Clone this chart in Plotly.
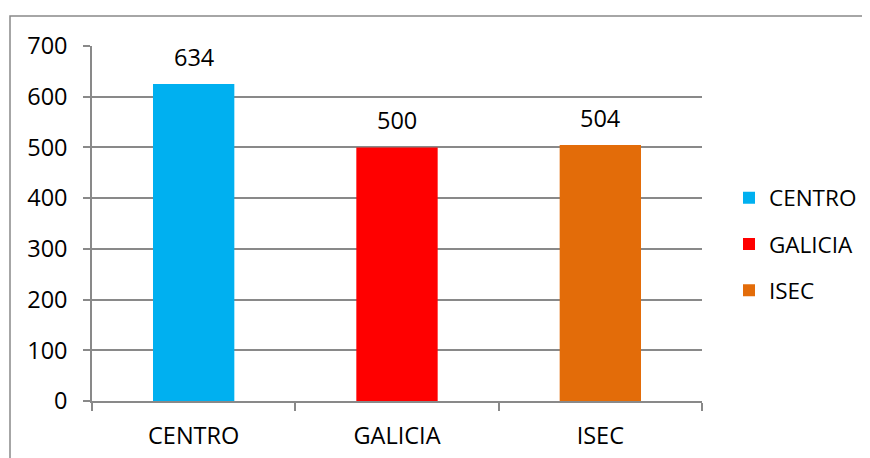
import plotly.graph_objects as go

categories = ["CENTRO", "GALICIA", "ISEC"]
bar_heights = [625, 500, 505]
value_labels = ["634", "500", "504"]
colors = ["#00B0F0", "#FF0000", "#E36C09"]
y_ticks = [0, 100, 200, 300, 400, 500, 600, 700]

FONT = "Open Sans"
FS = 23.5
GRID = "#898989"

# page offset of the plot div (body margin)
OX, OY = 8, 7

fig = go.Figure()
for i, c in enumerate(categories):
    fig.add_trace(go.Bar(
        x=[c], y=[bar_heights[i]], name=c, marker_color=colors[i],
        marker_line_width=0, legendgroup=c, hoverinfo="skip"))
    fig.add_annotation(x=c, y=bar_heights[i], text=value_labels[i],
                       showarrow=False, yanchor="middle", yshift=27,
                       font=dict(family=FONT, size=FS, color="#000000"))

L, R, T, B = 92 - OX, 702 - OX, 45 - OY, 400 - OY
W, H = 870, 458
pw, ph = R - L, B - T
def px(x): return (x - OX - L) / pw
def py(y): return (B - (y - OY)) / ph

fig.add_shape(type="path", xref="paper", yref="paper",
              path=f"M {px(10)} {py(480)} L {px(10)} {py(15)} L {px(890)} {py(15)}",
              line=dict(color=GRID, width=1.5))

fig.update_layout(
    width=W, height=H,
    margin=dict(l=L, r=W - R, t=T, b=H - B, autoexpand=False),
    paper_bgcolor="white", plot_bgcolor="white",
    barmode="overlay", bargap=0.6,
    font=dict(family=FONT, size=FS, color="#000000"),
    showlegend=True,
    legend=dict(x=px(729), y=py(243), xanchor="left", yanchor="middle",
                tracegroupgap=14, font=dict(family=FONT, size=22.5),
                itemwidth=30, traceorder="grouped"),
    xaxis=dict(type="category", categoryorder="array", categoryarray=categories,
               showline=True, linecolor=GRID, linewidth=1.5,
               ticks="outside", tickson="boundaries", ticklen=8,
               tickcolor=GRID, tickwidth=1.5, showgrid=False,
               ticklabelstandoff=13,
               tickfont=dict(family=FONT, size=FS)),
    yaxis=dict(range=[0, 700], tickvals=y_ticks, showline=True,
               linecolor=GRID, linewidth=1.5, ticks="outside", ticklen=7,
               tickcolor=GRID, tickwidth=1.5, showgrid=True, gridcolor=GRID,
               gridwidth=1.5, zeroline=False, ticklabelstandoff=11,
               tickfont=dict(family=FONT, size=FS)),
)

fig.write_html("out.html")
